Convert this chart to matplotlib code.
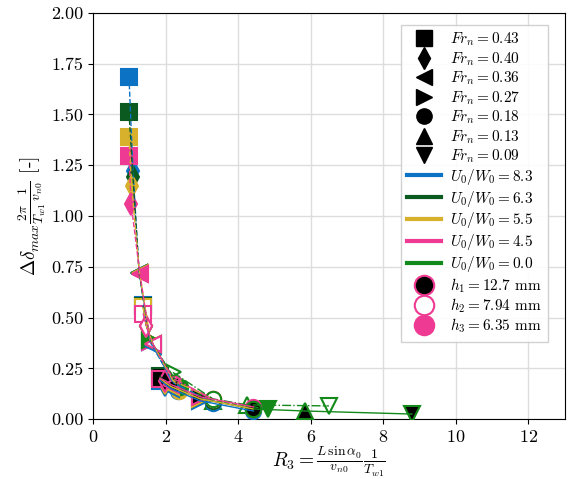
import matplotlib
matplotlib.use("Agg")
import matplotlib.pyplot as plt
from matplotlib.lines import Line2D

plt.rcParams['font.family'] = 'serif'
plt.rcParams['font.serif'] = ['cmr10']
plt.rcParams['mathtext.fontset'] = 'cm'
plt.rcParams['axes.formatter.use_mathtext'] = True

# legend categories
fr_values = [0.43, 0.40, 0.36, 0.27, 0.18, 0.13, 0.09]
fr_markers = ['s', 'd', '<', '>', 'o', '^', 'v']
u_values = [8.3, 6.3, 5.5, 4.5, 0.0]
u_colors = ['#0b72c4', '#0b5a20', '#d8b12c', '#ee3a92', '#13891a']
h_labels = [r'$h_1 = 12.7$ mm', r'$h_2 = 7.94$ mm', r'$h_3 = 6.35$ mm']
h_styles = ['-', '-.', '--']

# data: one series per (U0/W0, h); fr = index into fr_values
# U0/W0 = 8.3
fr_83_h1 = [0, 1, 2, 3, 4]
x_83_h1 = [1.85, 1.99, 2.15, 2.95, 4.42]
y_83_h1 = [0.19, 0.17, 0.15, 0.09, 0.04]
fr_83_h2 = [0, 1, 2, 3, 4]
x_83_h2 = [1.38, 1.47, 1.65, 2.20, 3.30]
y_83_h2 = [0.56, 0.46, 0.36, 0.18, 0.08]
fr_83_h3 = [0, 1, 2, 3, 4]
x_83_h3 = [0.99, 1.10, 1.27, 1.57, 2.35]
y_83_h3 = [1.685, 1.22, 0.72, 0.38, 0.14]

# U0/W0 = 6.3
fr_63_h1 = [0, 1, 2, 3, 4]
x_63_h1 = [1.85, 1.99, 2.15, 2.95, 4.42]
y_63_h1 = [0.21, 0.18, 0.16, 0.10, 0.05]
fr_63_h2 = [0, 1, 2, 3, 4]
x_63_h2 = [1.38, 1.47, 1.65, 2.20, 3.30]
y_63_h2 = [0.555, 0.46, 0.37, 0.20, 0.09]
fr_63_h3 = [0, 1, 2, 3, 4]
x_63_h3 = [0.99, 1.10, 1.27, 1.57, 2.35]
y_63_h3 = [1.51, 1.19, 0.72, 0.39, 0.16]

# U0/W0 = 5.5
fr_55_h1 = [0, 1, 2, 3, 4]
x_55_h1 = [1.85, 1.99, 2.15, 2.95, 4.42]
y_55_h1 = [0.20, 0.18, 0.16, 0.10, 0.05]
fr_55_h2 = [0, 1, 2, 3, 4]
x_55_h2 = [1.38, 1.47, 1.65, 2.20, 3.30]
y_55_h2 = [0.55, 0.46, 0.37, 0.19, 0.10]
fr_55_h3 = [0, 1, 2, 3, 4]
x_55_h3 = [0.99, 1.06, 1.28, 1.58, 2.38]
y_55_h3 = [1.39, 1.15, 0.72, 0.39, 0.14]

# U0/W0 = 4.5
fr_45_h1 = [0, 1, 2, 3, 4]
x_45_h1 = [1.85, 1.99, 2.15, 2.95, 4.42]
y_45_h1 = [0.20, 0.19, 0.17, 0.11, 0.06]
fr_45_h2 = [0, 1, 2, 3, 4]
x_45_h2 = [1.38, 1.46, 1.65, 2.20, 3.30]
y_45_h2 = [0.52, 0.46, 0.37, 0.20, 0.10]
fr_45_h3 = [0, 1, 2, 3, 4]
x_45_h3 = [0.99, 1.05, 1.29, 1.58, 2.38]
y_45_h3 = [1.295, 1.06, 0.715, 0.38, 0.16]

# U0/W0 = 0.0
fr_00_h1 = [4, 5, 6]
x_00_h1 = [4.42, 5.84, 8.79]
y_00_h1 = [0.05, 0.04, 0.025]
fr_00_h2 = [3, 4, 5, 6]
x_00_h2 = [2.20, 3.30, 4.25, 6.50]
y_00_h2 = [0.23, 0.10, 0.07, 0.065]
fr_00_h3 = [3, 4, 5, 6]
x_00_h3 = [1.57, 2.39, 3.30, 4.82]
y_00_h3 = [0.39, 0.16, 0.09, 0.05]

series = [
    (0, 2, fr_83_h3, x_83_h3, y_83_h3), (1, 2, fr_63_h3, x_63_h3, y_63_h3),
    (2, 2, fr_55_h3, x_55_h3, y_55_h3), (3, 2, fr_45_h3, x_45_h3, y_45_h3),
    (4, 2, fr_00_h3, x_00_h3, y_00_h3),
    (0, 1, fr_83_h2, x_83_h2, y_83_h2), (1, 1, fr_63_h2, x_63_h2, y_63_h2),
    (2, 1, fr_55_h2, x_55_h2, y_55_h2), (3, 1, fr_45_h2, x_45_h2, y_45_h2),
    (4, 1, fr_00_h2, x_00_h2, y_00_h2),
    (0, 0, fr_83_h1, x_83_h1, y_83_h1), (1, 0, fr_63_h1, x_63_h1, y_63_h1),
    (2, 0, fr_55_h1, x_55_h1, y_55_h1), (3, 0, fr_45_h1, x_45_h1, y_45_h1),
    (4, 0, fr_00_h1, x_00_h1, y_00_h1),
]


def face_for(h, color):
    if h == 0:
        return 'black'
    if h == 1:
        return 'white'
    return color


fig = plt.figure(figsize=(5.71, 4.79), dpi=100)
ax = fig.add_axes([0.163, 0.125, 0.826, 0.848])

for u, h, frs, xs, ys in series:
    color = u_colors[u]
    for f, x, y in zip(frs, xs, ys):
        ax.plot(x, y, marker=fr_markers[f], markersize=11, markerfacecolor=face_for(h, color),
                markeredgecolor=color, markeredgewidth=1.5, linestyle='none', zorder=3)
    ax.plot(xs, ys, color=color, linestyle=h_styles[h], lw=1.0, zorder=4)

ax.set_xlim(0, 13)
ax.set_ylim(0, 2)
ax.set_xticks([0, 2, 4, 6, 8, 10, 12])
ax.set_yticks([0, 0.25, 0.5, 0.75, 1.0, 1.25, 1.5, 1.75, 2.0])
ax.set_yticklabels(['0.00', '0.25', '0.50', '0.75', '1.00', '1.25', '1.50', '1.75', '2.00'])
ax.tick_params(labelsize=13)
ax.grid(True, color='#dddddd', lw=1.0)
ax.set_axisbelow(True)
ax.set_xlabel(r'$R_3 = \frac{L\,\sin\alpha_0}{v_{n0}}\frac{1}{T_{w1}}$', fontsize=14, labelpad=0)
ax.set_ylabel(r'$\Delta\delta_{max}\frac{2\pi}{T_{w1}}\frac{1}{v_{n0}}$ [-]', fontsize=14, labelpad=2)

handles = []
labels = []
for v, m in zip(fr_values, fr_markers):
    handles.append(Line2D([], [], marker=m, color='black', linestyle='none', markersize=11))
    labels.append(r'$Fr_n = %.2f$' % v)
for v, c in zip(u_values, u_colors):
    handles.append(Line2D([], [], color=c, lw=3))
    labels.append(r'$U_0/W_0 = %.1f$' % v)
for h in range(3):
    handles.append(Line2D([], [], marker='o', linestyle='none', markersize=14,
                          markerfacecolor=face_for(h, u_colors[3]), markeredgecolor=u_colors[3],
                          markeredgewidth=1.5))
    labels.append(h_labels[h])
ax.legend(handles, labels, loc='upper right', fontsize=11, labelspacing=0.12,
          handlelength=2.2, handletextpad=0.6, borderpad=0.4, framealpha=0.9, fancybox=False,
          bbox_to_anchor=(0.98, 0.99))

fig.savefig('out.png', dpi=100)
